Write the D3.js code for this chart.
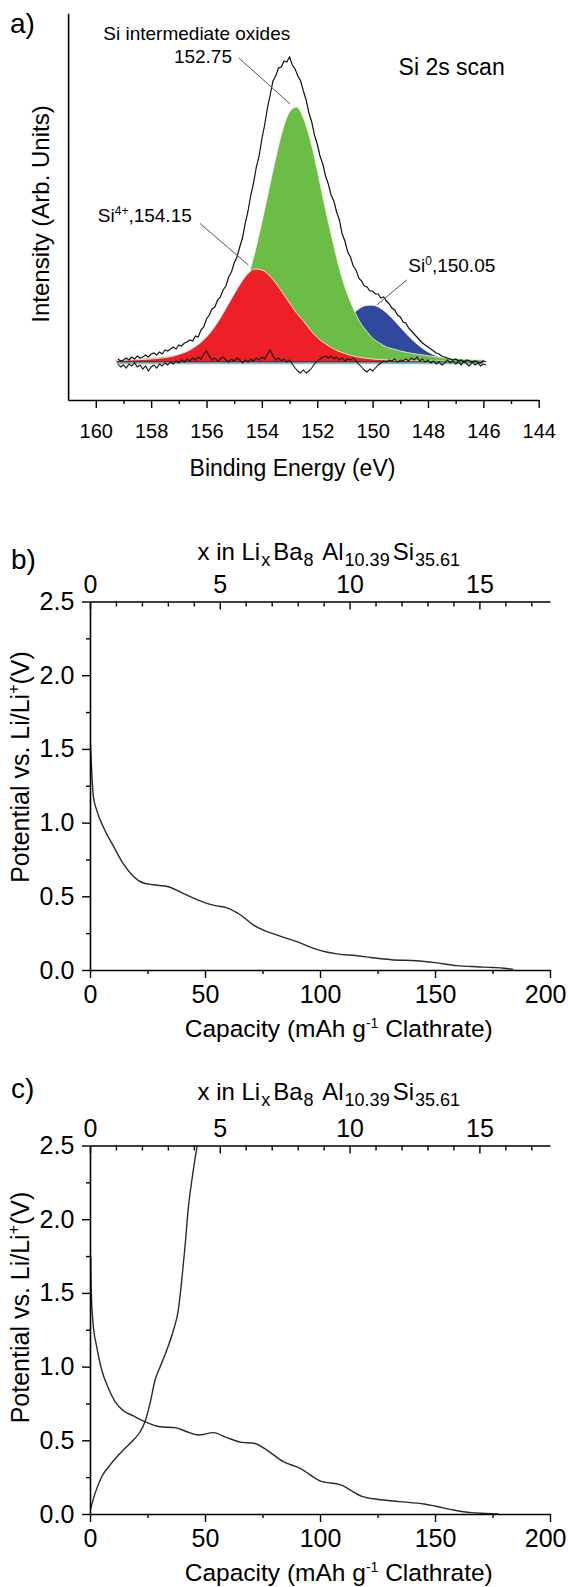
<!DOCTYPE html>
<html>
<head>
<meta charset="utf-8">
<script src="https://cdn.jsdelivr.net/npm/d3@7"></script>
<style>
  body { margin: 0; background: #fff; }
  svg { display: block; }
  text { font-family: "Liberation Sans", Arial, sans-serif; fill: #000; }
</style>
</head>
<body>
<svg id="chart" width="568" height="1587"></svg>
<script>
// ---------------- Panel a : Si 2s XPS ----------------
const xpsRawEnergy = [
  159.2,159.1,159.0,158.9,158.8,158.7,158.6,158.5,158.4,158.3,
  158.2,158.1,158.0,157.9,157.8,157.7,157.6,157.5,157.4,157.3,
  157.2,157.1,157.0,156.9,156.8,156.7,156.6,156.5,156.4,156.3,
  156.2,156.1,156.0,155.9,155.8,155.7,155.6,155.5,155.4,155.3,
  155.2,155.1,155.0,154.9,154.8,154.7,154.6,154.5,154.4,154.3,
  154.2,154.1,154.0,153.9,153.8,153.7,153.6,153.5,153.4,153.3,
  153.2,153.1,153.0,152.9,152.8,152.7,152.6,152.5,152.4,152.3,
  152.2,152.1,152.0,151.9,151.8,151.7,151.6,151.5,151.4,151.3,
  151.2,151.1,151.0,150.9,150.8,150.7,150.6,150.5,150.4,150.3,
  150.2,150.1,150.0,149.9,149.8,149.7,149.6,149.5,149.4,149.3,
  149.2,149.1,149.0,148.9,148.8,148.7,148.6,148.5,148.4,148.3,
  148.2,148.1,148.0,147.9,147.8,147.7,147.6,147.5,147.4,147.3,
  147.2,147.1,147.0,146.9,146.8,146.7,146.6,146.5,146.4,146.3,
  146.2,146.1,146.0,145.9
];
const xpsEnvelope = [
  3,1,2,4,2,5,3,6,4,5,
  7,5,8,9,7,10,8,12,11,13,
  15,13,17,16,19,20,22,21,26,25,
  32,35,43,47,53,55,62,65,72,76,
  85,90,99,105,115,124,139,151,167,179,
  195,206,223,237,254,267,281,286,294,295,
  301,300,305,297,293,286,281,271,262,249,
  240,227,218,206,198,186,178,167,161,150,
  142,128,121,110,105,96,92,84,81,76,
  75,71,71,68,68,64,65,61,58,54,
  52,47,45,40,39,34,31,28,25,22,
  19,17,15,13,11,9,8,6,5,4,
  3,2,3,1,2,0,2,1,0,1,
  0,-1,1,0
];
const xpsResidual = [
  -2,-5,-3,-6,-2,-4,-1,-5,-3,-7,
  -4,-9,-5,-3,-6,-2,-4,-1,-3,0,
  -2,1,-1,2,0,3,1,4,2,5,
  3,8,11,6,2,4,1,3,5,2,
  0,3,1,4,2,-1,2,0,3,1,
  4,2,5,3,8,12,6,2,4,1,
  3,0,2,-2,-6,-9,-11,-8,-11,-9,
  -6,-2,1,3,5,6,4,6,3,5,
  2,4,1,3,2,4,1,-2,-5,-8,
  -10,-7,-9,-6,-3,-1,1,0,2,1,
  3,0,2,1,3,1,4,2,5,1,
  3,0,2,-1,1,-2,0,-3,-1,2,
  -1,1,-2,0,-3,1,-2,-4,0,-3,
  -1,-4,-2,-3
];
const xpsFitEnergy = [
  159.25,159.0,158.75,158.5,158.25,158.0,157.75,157.5,157.25,157.0,
  156.75,156.5,156.25,156.0,155.75,155.5,155.25,155.0,154.75,154.5,
  154.25,154.0,153.75,153.5,153.25,153.0,152.75,152.5,152.25,152.0,
  151.75,151.5,151.25,151.0,150.75,150.5,150.25,150.0,149.75,149.5,
  149.25,149.0,148.75,148.5,148.25,148.0,147.75,147.5,147.25,147.0,
  146.75,146.5,146.25,146.0
];
const xpsSiIntermediate = [   // green, 152.75 eV
  2.5,2.8,3,3.3,3.7,4.2,4.8,5.5,6.5,7.8,
  9.5,12,14,17,21,27,35,47,64,85,
  110,140,172,204,232,250,255,244,222,192,
  159,128,99,75,57,42,32,24,19,15,
  13,11,9.5,8.3,7.3,6.3,5.4,4.6,4,3.4,
  3,2.7,2.4,2.2
];
const xpsSi4Plus = [          // red, 154.15 eV
  1.5,1.7,2.0,2.3,2.6,3.0,3.6,4.4,5.6,7.6,
  10,13.7,18.5,25,33.5,44,56,68,79.5,88.5,
  93,92,87,79,69,59,49,41,32,24.5,
  19,14.5,11,8.5,6.3,4.8,3.8,3.0,2.5,2.1,
  1.8,1.5,1.3,1.2,1.1,1.0,0.9,0.8,0.8,0.7,
  0.7,0.6,0.6,0.5
];
const xpsSi0 = [              // blue, 150.05 eV
  0.1,0.1,0.1,0.1,0.1,0.1,0.1,0.1,0.1,0.1,
  0.2,0.2,0.2,0.2,0.2,0.3,0.3,0.3,0.4,0.4,
  0.5,0.5,0.7,1.0,1.6,2.5,3.9,6,9.1,13.3,
  18.7,25.3,32.7,40.3,47.5,53.1,56.4,56.8,54.3,49.2,
  42.4,34.8,27.3,20.5,14.7,10.1,6.8,4.4,2.9,1.9,
  1.2,0.8,0.5,0.4
];
const xpsBackgroundEnergy = [159.25, 146.0];
const xpsBackground = [0, 0];
const beTicks = [160,158,156,154,152,150,148,146,144];
const beMinorTicks = [159,157,155,153,151,149,147,145];

// ---------------- Panels b, c : galvanostatic curves ----------------
const capB = [0,0.3,0.7,1.45,2.9,5.8,10.2,14.5,18.9,23.2,27.6,34.1,39.2,45,50.8,55,59.5,65.3,71.1,75.4,82.7,90,97.2,102.8,108,115.4,122,131,142,150,159.5,168,175.3,180,184];
const potB = [1.58,1.50,1.36,1.18,1.085,0.97,0.84,0.72,0.635,0.59,0.578,0.565,0.53,0.487,0.452,0.435,0.422,0.375,0.305,0.27,0.23,0.192,0.147,0.122,0.108,0.098,0.085,0.07,0.063,0.05,0.03,0.022,0.017,0.012,0.004];

const capCDischarge = [0.3,0.5,1.2,2.9,5.1,8,10.9,14.5,18.9,23.9,30.5,37,42.1,47.1,53.7,59.5,66,71.1,76.9,84.1,91.4,100,109,118.5,124.8,134.3,145.3,150,158,165.8,172,177.7];
const potCDischarge = [1.75,1.54,1.316,1.135,0.977,0.853,0.762,0.701,0.665,0.626,0.592,0.586,0.558,0.536,0.552,0.518,0.486,0.48,0.434,0.355,0.31,0.225,0.197,0.118,0.1,0.084,0.068,0.054,0.027,0.009,0.004,0.0];
const capCCharge = [0,2.2,5.1,8.7,13.8,18.9,21.8,23.9,26.1,28.3,30.5,33.4,36.3,38.4,39.9,41.3,42.8,44.3,46.6];
const potCCharge = [0.02,0.14,0.253,0.332,0.423,0.502,0.558,0.626,0.751,0.909,0.999,1.113,1.248,1.384,1.588,1.813,2.085,2.266,2.5];

const capTicks = [0,50,100,150,200];
const capMinorTicks = [25,75,125,175];
const potTicks = [0,0.5,1.0,1.5,2.0,2.5];
const potMinorTicks = [0.25,0.75,1.25,1.75,2.25];
const liTicks = [0,5,10,15];
const liMinorTicks = [1,2,3,4,6,7,8,9,11,12,13,14,16,17];
const liMax = 17.72;   // x in LixBa8Al10.39Si35.61 at 200 mAh/g

// ---------------- drawing ----------------
const svg = d3.select("#chart");
const FONT = '"Liberation Sans", Arial, sans-serif';

function styleAxis(g, fontSize) {
  g.attr("font-family", FONT).attr("font-size", fontSize);
  g.selectAll("path.domain").attr("stroke", "#000").attr("stroke-width", 1.6);
  g.selectAll(".tick line").attr("stroke", "#000").attr("stroke-width", 1.4);
  g.selectAll(".tick text").attr("fill", "#000");
  return g;
}
function minor(g) {
  g.select("path.domain").remove();
  g.selectAll(".tick line").attr("stroke", "#000").attr("stroke-width", 1.4);
}

// ===== Panel a =====
const xA = d3.scaleLinear().domain([161, 144]).range([68.1, 538.7]);
const yA = d3.scaleLinear().domain([-38, 348.7]).range([400, 13.3]);

const fitRows = xpsFitEnergy.map((e, i) => ({e, g: xpsSiIntermediate[i], r: xpsSi4Plus[i], b: xpsSi0[i]}));
const areaOf = key => d3.area().x(d => xA(d.e)).y0(yA(0)).y1(d => yA(d[key])).curve(d3.curveMonotoneX);
const rimOf = key => d3.line().x(d => xA(d.e)).y(d => yA(d[key])).curve(d3.curveMonotoneX);
[["b", "#2f4a9c"], ["g", "#6cbd45"], ["r", "#ec2026"]].forEach(([k, col]) => {
  svg.append("path").datum(fitRows).attr("d", areaOf(k)).attr("fill", col);
  svg.append("path").datum(fitRows).attr("d", rimOf(k))
    .attr("fill", "none").attr("stroke", "#fff").attr("stroke-width", 1).attr("opacity", 0.75);
});

// background lines
const bgRows = xpsBackgroundEnergy.map((e, i) => ({e, v: xpsBackground[i]}));
svg.append("path").datum(bgRows)
  .attr("d", d3.line().x(d => xA(d.e)).y(d => yA(d.v - 1.5)))
  .attr("stroke", "#6cc9d6").attr("stroke-width", 1.6).attr("fill", "none");
svg.append("path").datum(bgRows)
  .attr("d", d3.line().x(d => xA(d.e)).y(d => yA(d.v)))
  .attr("stroke", "#222").attr("stroke-width", 1).attr("fill", "none");

const rawRows = xpsRawEnergy.map((e, i) => ({e, env: xpsEnvelope[i], res: xpsResidual[i]}));
svg.append("path").datum(rawRows)
  .attr("d", d3.line().x(d => xA(d.e)).y(d => yA(d.res)))
  .attr("stroke", "#111").attr("stroke-width", 1.1).attr("fill", "none");
svg.append("path").datum(rawRows)
  .attr("d", d3.line().x(d => xA(d.e)).y(d => yA(d.env)))
  .attr("stroke", "#111").attr("stroke-width", 1.2).attr("fill", "none");

// axes a
styleAxis(svg.append("g").attr("transform", "translate(0,400)")
  .call(d3.axisBottom(xA).tickValues(beTicks).tickSize(8).tickSizeOuter(0).tickPadding(15.5).tickFormat(d3.format("d"))), 20);
svg.append("g").attr("transform", "translate(0,400)")
  .call(d3.axisBottom(xA).tickValues(beMinorTicks).tickSize(4).tickFormat("")).call(minor);
styleAxis(svg.append("g").attr("transform", "translate(68.1,0)")
  .call(d3.axisLeft(yA).tickValues([]).tickSizeOuter(0)), 20);

// labels a
svg.append("text").attr("x", 10).attr("y", 33).attr("font-size", 28).text("a)");
svg.append("text").attr("x", 292.5).attr("y", 476).attr("text-anchor", "middle").attr("font-size", 23).text("Binding Energy (eV)");
svg.append("text").attr("transform", "translate(49.3,214) rotate(-90)").attr("text-anchor", "middle")
  .attr("font-size", 24).text("Intensity (Arb. Units)");
svg.append("text").attr("x", 398.6).attr("y", 75).attr("font-size", 23).text("Si 2s scan");
svg.append("text").attr("x", 103.3).attr("y", 40).attr("font-size", 19).text("Si intermediate oxides");
svg.append("text").attr("x", 232).attr("y", 63).attr("text-anchor", "end").attr("font-size", 19).text("152.75");
const si4 = svg.append("text").attr("x", 97.8).attr("y", 221.7).attr("font-size", 19);
si4.append("tspan").text("Si");
si4.append("tspan").attr("dy", -7).attr("font-size", 12).text("4+");
si4.append("tspan").attr("dy", 7).text(",154.15");
const si0 = svg.append("text").attr("x", 408.3).attr("y", 272).attr("font-size", 19);
si0.append("tspan").text("Si");
si0.append("tspan").attr("dy", -7).attr("font-size", 12).text("0");
si0.append("tspan").attr("dy", 7).text(",150.05");

// leader lines (anchored in data space)
const leaders = [
  [[154.83, 304], [152.98, 258]],
  [[156.24, 138.7], [154.49, 97]],
  [[148.77, 82], [149.85, 57]]
];
leaders.forEach(([p, q]) => {
  svg.append("line").attr("x1", xA(p[0])).attr("y1", yA(p[1])).attr("x2", xA(q[0])).attr("y2", yA(q[1]))
    .attr("stroke", "#555").attr("stroke-width", 1);
});

// ===== Panels b & c =====
function galvanoPanel(cfg) {
  const x = d3.scaleLinear().domain([0, 200]).range([90, 550]);
  const xTop = d3.scaleLinear().domain([0, liMax]).range([90, 550]);
  const y = d3.scaleLinear().domain([0, 2.5]).range([cfg.bottom, cfg.top]);

  const clipId = "clip" + cfg.name;
  svg.append("clipPath").attr("id", clipId).append("rect")
    .attr("x", 90).attr("y", cfg.top).attr("width", 460).attr("height", cfg.bottom - cfg.top);

  const line = d3.line().x(d => x(d[0])).y(d => y(d[1])).curve(d3.curveMonotoneX);
  cfg.curves.forEach(c => {
    svg.append("path").datum(c[0].map((v, i) => [v, c[1][i]]))
      .attr("d", line).attr("fill", "none").attr("stroke", "#2a2a2a").attr("stroke-width", 1.4)
      .attr("clip-path", `url(#${clipId})`);
  });

  // bottom axis
  const gb = styleAxis(svg.append("g").attr("transform", `translate(0,${cfg.bottom})`)
    .call(d3.axisBottom(x).tickValues(capTicks).tickSize(8).tickSizeOuter(0).tickPadding(7.3).tickFormat(d3.format("d"))), 25);
  // keep the last label inside the page, as in the reference
  gb.selectAll(".tick text").filter(d => d === 200).attr("text-anchor", "end").attr("dx", 16);
  svg.append("g").attr("transform", `translate(0,${cfg.bottom})`)
    .call(d3.axisBottom(x).tickValues(capMinorTicks).tickSize(4).tickFormat("")).call(minor);
  // top axis (inward ticks)
  styleAxis(svg.append("g").attr("transform", `translate(0,${cfg.top})`)
    .call(d3.axisTop(xTop).tickValues(liTicks).tickSize(-8).tickSizeOuter(0).tickPadding(9).tickFormat(d3.format("d"))), 25);
  svg.append("g").attr("transform", `translate(0,${cfg.top})`)
    .call(d3.axisTop(xTop).tickValues(liMinorTicks).tickSize(-5).tickFormat("")).call(minor);
  // left axis
  styleAxis(svg.append("g").attr("transform", "translate(90,0)")
    .call(d3.axisLeft(y).tickValues(potTicks).tickSize(8).tickSizeOuter(0).tickPadding(7.7).tickFormat(d3.format(".1f"))), 25);
  svg.append("g").attr("transform", "translate(90,0)")
    .call(d3.axisLeft(y).tickValues(potMinorTicks).tickSize(4).tickFormat("")).call(minor);

  // panel letter
  svg.append("text").attr("x", 11).attr("y", cfg.letterY).attr("font-size", 28).text(cfg.name + ")");

  // top title with subscripts
  const t = svg.append("text").attr("x", 197.5).attr("y", cfg.titleY).attr("font-size", 24);
  const sub = (s) => { t.append("tspan").attr("dy", 6).attr("dx", 1).attr("font-size", 18).text(s); };
  const main = (s, dx) => { t.append("tspan").attr("dy", -6).attr("dx", dx || 0).text(s); };
  t.append("tspan").text("x in Li");
  sub("x");
  main("Ba", 3);
  sub("8");
  main("\u00A0Al", 2);
  sub("10.39");
  main("Si", 3);
  sub("35.61");

  // bottom title
  const b = svg.append("text").attr("x", 184.8).attr("y", cfg.capTitleY).attr("font-size", 24.5);
  b.append("tspan").text("Capacity (mAh g");
  b.append("tspan").attr("dy", -9).attr("font-size", 14).text("-1");
  b.append("tspan").attr("dy", 9).text(" Clathrate)");

  // left title
  const l = svg.append("text").attr("transform", `translate(29,${cfg.yTitleCenter}) rotate(-90)`)
    .attr("text-anchor", "middle").attr("font-size", 25);
  l.append("tspan").text("Potential vs. Li/Li");
  l.append("tspan").attr("dy", -10).attr("font-size", 16).text("+");
  l.append("tspan").attr("dy", 10).text("(V)");
}

galvanoPanel({
  name: "b", top: 601.5, bottom: 970, letterY: 569, titleY: 560, capTitleY: 1036.7, yTitleCenter: 767,
  curves: [[capB, potB]]
});
galvanoPanel({
  name: "c", top: 1145.5, bottom: 1514, letterY: 1098, titleY: 1100, capTitleY: 1581, yTitleCenter: 1307.5,
  curves: [[capCDischarge, potCDischarge], [capCCharge, potCCharge]]
});
</script>
</body>
</html>
